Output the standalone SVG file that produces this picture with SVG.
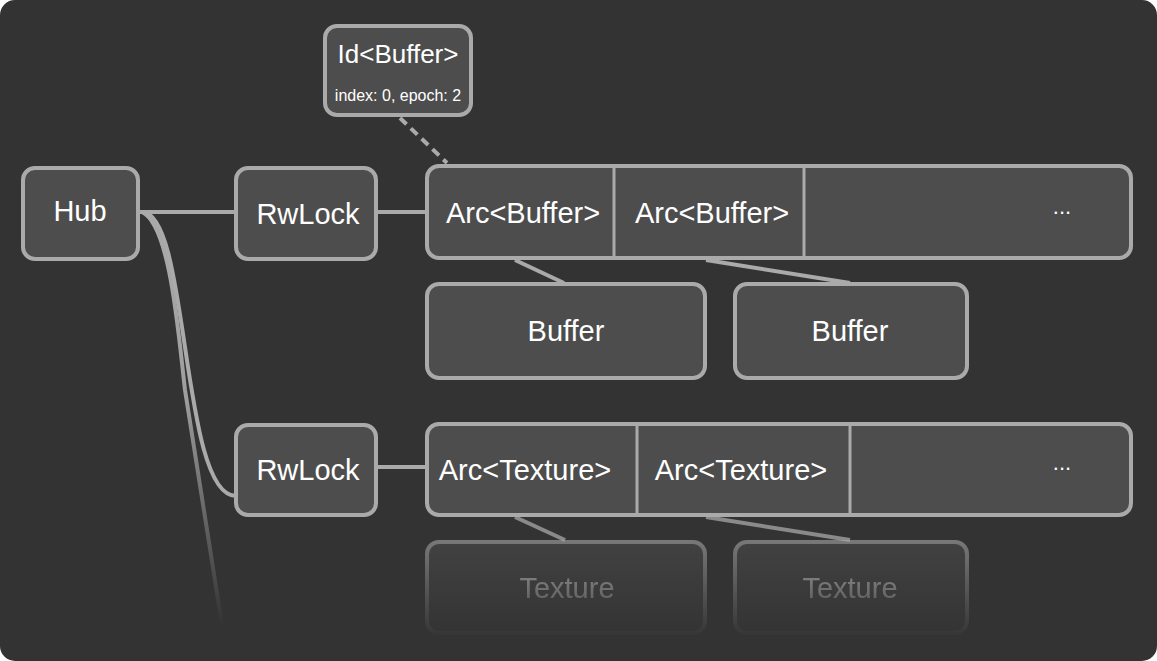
<svg xmlns="http://www.w3.org/2000/svg" width="1157" height="661" viewBox="0 0 1157 661">
  <style>
    .node { fill: #4d4d4d; stroke: #aaaaaa; stroke-width: 4; }
    .div { stroke: #aaaaaa; stroke-width: 3; }
    .conn { fill: none; stroke: #aaaaaa; stroke-width: 4; }
    .lbl { font-family: "Liberation Sans", Arial, sans-serif; font-size: 29px; fill: #ffffff; text-anchor: middle; }
    .small { font-size: 16px; }
    .mid { font-size: 26px; }
    .dots { font-size: 22px; }
  </style>
  <defs>
    <linearGradient id="fadeStroke" gradientUnits="userSpaceOnUse" x1="0" y1="212" x2="0" y2="625">
      <stop offset="0" stop-color="#aaaaaa" stop-opacity="1"/>
      <stop offset="0.45" stop-color="#aaaaaa" stop-opacity="0.9"/>
      <stop offset="1" stop-color="#aaaaaa" stop-opacity="0"/>
    </linearGradient>
    <linearGradient id="fadeMaskGrad" gradientUnits="userSpaceOnUse" x1="0" y1="520" x2="0" y2="640">
      <stop offset="0" stop-color="#ffffff" stop-opacity="0.7"/>
      <stop offset="1" stop-color="#ffffff" stop-opacity="0"/>
    </linearGradient>
    <mask id="fadeMask" maskUnits="userSpaceOnUse" x="0" y="0" width="1157" height="661">
      <rect x="0" y="0" width="1157" height="661" fill="url(#fadeMaskGrad)"/>
    </mask>
  </defs>

  <rect x="0" y="0" width="1157" height="661" fill="#ffffff"/>
  <rect x="0" y="0" width="1157" height="661" rx="15" fill="#333333"/>

  <g id="connectors">
    <path class="conn" d="M140 212 L236 212"/>
    <path class="conn" d="M376 212 L427 212"/>
    <path class="conn" d="M376 467 L427 467"/>
    <path class="conn" d="M400 118 L447 163" stroke-dasharray="9 6"/>
    <path class="conn" d="M515 260 L564 283"/>
    <path class="conn" d="M706 260 L850 283"/>
    <path class="conn" d="M142 212 C190 212, 180 496, 236 496"/>
    <path fill="none" stroke="url(#fadeStroke)" stroke-width="4" d="M142 212 C170 225, 178 330, 185 390 L222 625"/>
    <path fill="none" stroke="#8a8a8a" stroke-width="4" d="M515 517 L565 540"/>
    <path fill="none" stroke="#8a8a8a" stroke-width="4" d="M706 517 L850 540"/>
  </g>

  <g id="hub">
    <rect class="node" x="23" y="168" width="115" height="91" rx="12"/>
    <text class="lbl" x="80" y="221">Hub</text>
  </g>

  <g id="rwlock-buffer">
    <rect class="node" x="236" y="168" width="140" height="91" rx="12"/>
    <text class="lbl" x="308" y="224">RwLock</text>
  </g>

  <g id="id-buffer">
    <rect class="node" x="325" y="26" width="146" height="89" rx="12"/>
    <text class="lbl mid" x="398" y="63">Id&lt;Buffer&gt;</text>
    <text class="lbl small" x="398" y="101">index: 0, epoch: 2</text>
  </g>

  <g id="arc-buffer-row">
    <rect class="node" x="427" y="166" width="704" height="92" rx="12"/>
    <line class="div" x1="614" y1="166" x2="614" y2="258"/>
    <line class="div" x1="804" y1="166" x2="804" y2="258"/>
    <text class="lbl" x="523" y="223">Arc&lt;Buffer&gt;</text>
    <text class="lbl" x="712" y="223">Arc&lt;Buffer&gt;</text>
    <text class="lbl dots" x="1062" y="214">...</text>
  </g>

  <g id="buffer-1">
    <rect class="node" x="427" y="284" width="278" height="94" rx="12"/>
    <text class="lbl" x="566" y="341">Buffer</text>
  </g>

  <g id="buffer-2">
    <rect class="node" x="735" y="284" width="232" height="94" rx="12"/>
    <text class="lbl" x="850" y="341">Buffer</text>
  </g>

  <g id="rwlock-texture">
    <rect class="node" x="236" y="425" width="140" height="90" rx="12"/>
    <text class="lbl" x="308" y="480">RwLock</text>
  </g>

  <g id="arc-texture-row">
    <rect class="node" x="427" y="424" width="704" height="91" rx="12"/>
    <line class="div" x1="637" y1="424" x2="637" y2="515"/>
    <line class="div" x1="850" y1="424" x2="850" y2="515"/>
    <text class="lbl" x="525" y="480">Arc&lt;Texture&gt;</text>
    <text class="lbl" x="741" y="480">Arc&lt;Texture&gt;</text>
    <text class="lbl dots" x="1062" y="470">...</text>
  </g>

  <g id="texture-1" mask="url(#fadeMask)">
    <rect class="node" x="427" y="542" width="278" height="91" rx="12"/>
    <text class="lbl" x="567" y="598">Texture</text>
  </g>

  <g id="texture-2" mask="url(#fadeMask)">
    <rect class="node" x="735" y="542" width="232" height="91" rx="12"/>
    <text class="lbl" x="850" y="598">Texture</text>
  </g>
</svg>
